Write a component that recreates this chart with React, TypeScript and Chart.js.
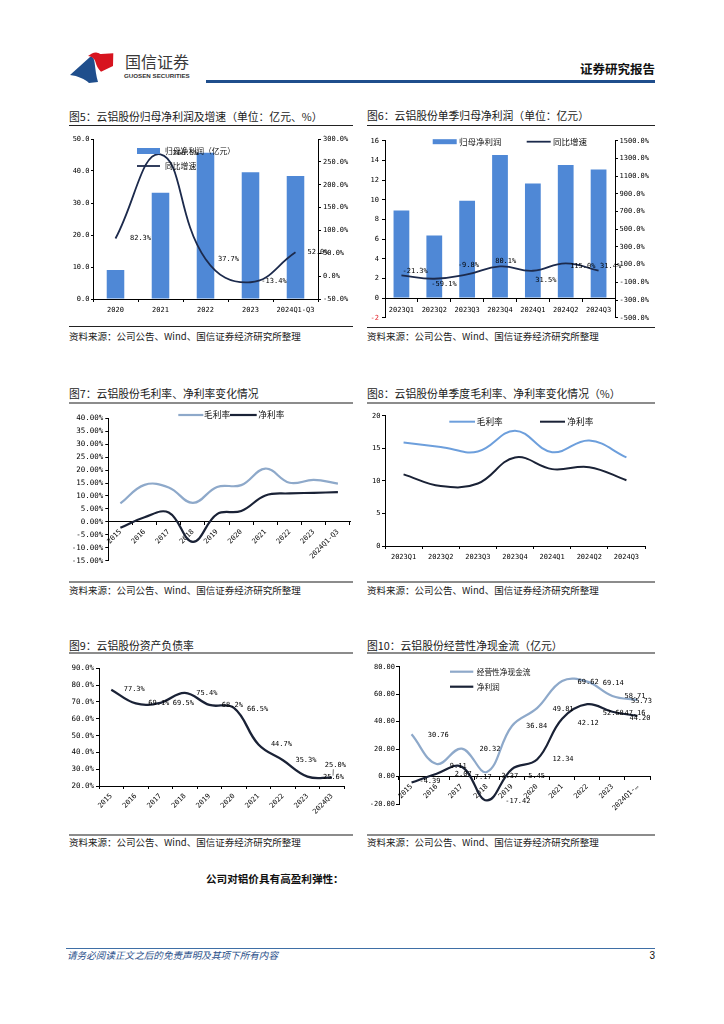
import React, { useEffect, useRef } from 'react';
import { Chart, registerables } from 'chart.js';

Chart.register(...registerables);

const MONO = '"DejaVu Sans Mono", "Liberation Mono", monospace';
const CJK = '"Noto Sans CJK SC", "Noto Sans", sans-serif';

const BAR_BLUE = '#4f88d6';
const NAVY = '#1c2a4c';
const DARK = '#1a2236';
const STEEL = '#8ea9ca';
const SKY = '#6d9fdc';

// ---------------- data ----------------
// 图5
const f5Categories = ['2020', '2021', '2022', '2023', '2024Q1-Q3'];
const f5NetProfit = [9.06, 33.2, 45.7, 39.6, 38.4];
const f5Growth = [82.3, 266.5, 37.7, -13.4, 52.0];
const f5LeftAxis = { min: 0, max: 50, step: 10 };
const f5RightAxis = { min: -50, max: 300, step: 50 };

// 图6
const f6Quarters = ['2023Q1', '2023Q2', '2023Q3', '2023Q4', '2024Q1', '2024Q2', '2024Q3'];
const f6NetProfit = [8.9, 6.37, 9.9, 14.55, 11.65, 13.54, 13.07];
const f6Growth = [-21.3, -59.1, -9.8, 80.1, 31.5, 115.0, 31.4];
const f6LeftAxis = { min: -2, max: 16, step: 2 };
const f6RightAxis = { min: -500, max: 1500, step: 200 };

// 图7
const f7Years = ['2015', '2016', '2017', '2018', '2019', '2020', '2021', '2022', '2023', '2024Q1-Q3'];
const f7GrossMargin = [7.1, 14.3, 13.3, 7.3, 13.5, 14.2, 20.6, 15.1, 16.2, 14.8];
const f7NetMargin = [-2.3, 1.8, 3.6, -7.7, 3.0, 4.2, 10.2, 11.0, 11.2, 11.5];
const f7Axis = { min: -15, max: 40, step: 5 };

// 图8
const f8Quarters = ['2023Q1', '2023Q2', '2023Q3', '2023Q4', '2024Q1', '2024Q2', '2024Q3'];
const f8GrossMargin = [15.9, 15.2, 14.5, 17.7, 14.4, 16.2, 13.6];
const f8NetMargin = [11.0, 9.2, 9.6, 13.6, 11.8, 12.1, 10.1];
const f8Axis = { min: 0, max: 20, step: 5 };

// 图9
const f9Years = ['2015', '2016', '2017', '2018', '2019', '2020', '2021', '2022', '2023', '2024Q3'];
const f9DebtRatio = [77.3, 69.1, 69.5, 75.4, 68.2, 66.5, 44.7, 35.3, 25.6, 25.0];
const f9Axis = { min: 20, max: 90, step: 10 };

// 图10
const f10Years = ['2015', '2016', '2017', '2018', '2019', '2020', '2021', '2022', '2023', '2024Q1-…'];
const f10OperatingCash = [30.76, 9.11, 20.32, 3.37, 36.84, 49.81, 69.62, 69.14, 58.71, 55.73];
const f10NetProfit = [-4.39, 2.07, 7.17, -17.42, 5.45, 12.34, 42.12, 52.68, 47.16, 44.2];
const f10Axis = { min: -20, max: 80, step: 20 };

// ---------------- label placement (style) ----------------
const f5LabelOffsets = [[25, 0], [25, -1], [23, 0], [23.5, -0.7], [22.5, 0.3]];
const f6LabelOffsets = [[13.7, -4.7], [9.7, 5.7], [1.3, -9], [5.7, -5], [13, 9], [17, 3], [12, -5]];
const f9LabelOffsets = [[23, 0], [23, 0], [23, 0], [22, 0], [23, 0], [23.7, 1.7], [23, 0], [23, 0], [26, 0.7], [3.3, -12.3]];
const f10CashOffsets = [[26.7, 0.6], [21.6, 1.8], [28.2, 0.5], [23, 4.7], [24.7, 0.7], [26, 1.1], [26, 1.7], [26, 1.1], [22.6, 0], [4, 1.6]];
const f10NetOffsets = [[18.4, -1], [26.6, 0], [21.5, 10], [31, 1], [24.7, 7.5], [26, 0], [26, 4.5], [26, 9], [22.6, 1.4], [2.5, 2.4]];

const pct1 = (v: number) => v.toFixed(1) + '%';
const pct2 = (v: number) => v.toFixed(2) + '%';
const fix1 = (v: number) => v.toFixed(1);
const fix2 = (v: number) => v.toFixed(2);
const int0 = (v: number) => String(Math.round(v));

// ---------------- plugins ----------------
function makeLabels(items: any[]) {
  return {
    id: 'dataLabels',
    afterDatasetsDraw(chart: any) {
      const ctx = chart.ctx;
      ctx.save();
      ctx.textAlign = 'center';
      ctx.textBaseline = 'middle';
      for (const it of items) {
        const meta = chart.getDatasetMeta(it.ds);
        const data = chart.data.datasets[it.ds].data;
        ctx.font = `${it.size || 7}px ${MONO}`;
        ctx.fillStyle = it.color || '#000';
        meta.data.forEach((el: any, i: number) => {
          const o = it.offsets[i];
          if (!o) return;
          const lx = el.x + o[0];
          const ly = el.y + o[1];
          ctx.fillText(it.fmt(data[i]), lx, ly);
          if (it.leaders && it.leaders.includes(i)) {
            ctx.strokeStyle = '#555';
            ctx.lineWidth = 0.8;
            ctx.beginPath();
            ctx.moveTo(el.x + 1, el.y - 2);
            ctx.lineTo(lx - 2, ly + 4);
            ctx.stroke();
          }
        });
      }
      ctx.restore();
    },
  };
}

function makeLegend(items: any[]) {
  return {
    id: 'inlineLegend',
    afterDraw(chart: any) {
      const ctx = chart.ctx;
      ctx.save();
      for (const it of items) {
        if (it.kind === 'box') {
          ctx.fillStyle = it.color;
          ctx.fillRect(it.x, it.y - it.h / 2, it.w, it.h);
        } else {
          ctx.strokeStyle = it.color;
          ctx.lineWidth = it.lw || 2;
          ctx.beginPath();
          ctx.moveTo(it.x, it.y);
          ctx.lineTo(it.x + it.w, it.y);
          ctx.stroke();
        }
        ctx.fillStyle = '#111';
        ctx.font = `${it.size}px ${CJK}`;
        ctx.textAlign = 'left';
        ctx.textBaseline = 'middle';
        ctx.fillText(it.text, it.tx, it.y);
      }
      ctx.restore();
    },
  };
}

// ---------------- axis helpers ----------------
function yAxis(o: any) {
  return {
    type: 'linear',
    position: o.pos,
    min: o.min,
    max: o.max,
    grid: { display: true, drawOnChartArea: false, drawTicks: true, tickLength: o.tick ?? 3, color: '#000', lineWidth: 1 },
    border: { display: true, color: '#000', width: 1 },
    ticks: {
      stepSize: o.step,
      maxTicksLimit: 100,
      autoSkip: false,
      padding: o.pad ?? 2,
      color: o.color ?? '#000',
      font: { family: MONO, size: o.size ?? 7 },
      callback: (v: any) => o.fmt(Number(v)),
    },
    afterFit: (s: any) => {
      s.width = o.width;
    },
  };
}

function xAxis(o: any) {
  const a: any = {
    type: 'category',
    offset: true,
    position: o.position ?? 'bottom',
    grid: { display: true, drawOnChartArea: false, drawTicks: true, tickLength: o.tick ?? 3, color: '#000', lineWidth: 1, offset: true },
    border: { display: true, color: '#000', width: 1 },
    ticks: {
      autoSkip: false,
      maxRotation: o.rotate ?? 0,
      minRotation: o.rotate ?? 0,
      padding: o.pad ?? 3,
      color: '#000',
      font: { family: MONO, size: 7 },
    },
  };
  if (o.height != null) {
    a.afterFit = (s: any) => {
      s.height = o.height;
    };
  }
  return a;
}

const baseOptions = () => ({
  animation: false,
  responsive: false,
  maintainAspectRatio: false,
  devicePixelRatio: 1,
  events: [],
  plugins: { legend: { display: false }, tooltip: { enabled: false } },
});

// ---------------- chart configs ----------------
function makeF5() {
  return {
    type: 'bar',
    data: {
      labels: f5Categories,
      datasets: [
        { type: 'bar', data: f5NetProfit, backgroundColor: BAR_BLUE, barPercentage: 0.39, categoryPercentage: 1, yAxisID: 'y', order: 2 },
        { type: 'line', data: f5Growth, borderColor: NAVY, borderWidth: 1.8, tension: 0.45, pointRadius: 0, fill: false, yAxisID: 'y1', order: 1 },
      ],
    },
    options: {
      ...baseOptions(),
      layout: { padding: { top: 11, right: 0, bottom: 0, left: 0 } },
      scales: {
        x: xAxis({ height: 26, pad: 4 }),
        y: yAxis({ pos: 'left', ...f5LeftAxis, fmt: fix1, width: 25, tick: 2, pad: 1.5 }),
        y1: yAxis({ pos: 'right', ...f5RightAxis, fmt: pct1, width: 37, tick: 3, pad: 2 }),
      },
    },
    plugins: [
      makeLabels([{ ds: 1, offsets: f5LabelOffsets, fmt: pct1 }]),
      makeLegend([
        { kind: 'box', color: BAR_BLUE, x: 69, y: 23, w: 23, h: 6, text: '归母净利润（亿元）', tx: 97, size: 7.8 },
        { kind: 'line', color: NAVY, x: 69, y: 38, w: 23, lw: 1.8, text: '同比增速', tx: 97, size: 7.8 },
      ]),
    ],
  };
}

function makeF6() {
  return {
    type: 'bar',
    data: {
      labels: f6Quarters,
      datasets: [
        { type: 'bar', data: f6NetProfit, backgroundColor: BAR_BLUE, barPercentage: 0.48, categoryPercentage: 1, yAxisID: 'y', order: 2 },
        { type: 'line', data: f6Growth, borderColor: NAVY, borderWidth: 1.8, tension: 0.45, pointRadius: 0, fill: false, yAxisID: 'y1', order: 1 },
      ],
    },
    options: {
      ...baseOptions(),
      layout: { padding: { top: 12.7, right: 0, bottom: 6.7, left: 0 } },
      scales: {
        x: xAxis({ position: { y: 0 }, pad: 4.5, tick: 3 }),
        y: yAxis({
          pos: 'left', ...f6LeftAxis, fmt: int0, width: 19, tick: 3, pad: 3,
          color: (c: any) => (c.tick && c.tick.value < 0 ? '#e3262d' : '#000'),
        }),
        y1: yAxis({ pos: 'right', ...f6RightAxis, fmt: pct1, width: 43, tick: 3, pad: 1.5 }),
      },
    },
    plugins: [
      makeLabels([{ ds: 1, offsets: f6LabelOffsets, fmt: pct1 }]),
      makeLegend([
        { kind: 'box', color: BAR_BLUE, x: 66.7, y: 13.7, w: 24, h: 5, text: '归母净利润', tx: 93, size: 8.5 },
        { kind: 'line', color: NAVY, x: 160.7, y: 13.7, w: 24, lw: 1.8, text: '同比增速', tx: 187, size: 8.5 },
      ]),
    ],
  };
}

function makeF7() {
  return {
    type: 'line',
    data: {
      labels: f7Years,
      datasets: [
        { data: f7GrossMargin, borderColor: STEEL, borderWidth: 2.2, tension: 0.4, pointRadius: 0, fill: false },
        { data: f7NetMargin, borderColor: DARK, borderWidth: 2.2, tension: 0.4, pointRadius: 0, fill: false },
      ],
    },
    options: {
      ...baseOptions(),
      layout: { padding: { top: 13.3, right: 5, bottom: 19.3, left: 0 } },
      scales: {
        x: xAxis({ position: { y: 0 }, rotate: 45, tick: 3, pad: 3 }),
        y: yAxis({ pos: 'left', ...f7Axis, fmt: pct2, width: 40.3, tick: 3, pad: 2, size: 7.5 }),
      },
    },
    plugins: [
      makeLegend([
        { kind: 'line', color: STEEL, x: 110.3, y: 10, w: 25, lw: 2.2, text: '毛利率', tx: 136, size: 8.7 },
        { kind: 'line', color: DARK, x: 162, y: 10, w: 26.7, lw: 2.2, text: '净利率', tx: 190.3, size: 8.7 },
      ]),
    ],
  };
}

function makeF8() {
  return {
    type: 'line',
    data: {
      labels: f8Quarters,
      datasets: [
        { data: f8GrossMargin, borderColor: SKY, borderWidth: 2, tension: 0.4, pointRadius: 0, fill: false },
        { data: f8NetMargin, borderColor: DARK, borderWidth: 2, tension: 0.4, pointRadius: 0, fill: false },
      ],
    },
    options: {
      ...baseOptions(),
      layout: { padding: { top: 10.7, right: 13, bottom: 0, left: 0 } },
      scales: {
        x: xAxis({ height: 34, tick: 3, pad: 4 }),
        y: yAxis({ pos: 'left', ...f8Axis, fmt: int0, width: 19, tick: 3, pad: 1.5 }),
      },
    },
    plugins: [
      makeLegend([
        { kind: 'line', color: SKY, x: 83.3, y: 16.7, w: 25.7, lw: 2, text: '毛利率', tx: 110.7, size: 8.7 },
        { kind: 'line', color: DARK, x: 174, y: 16.7, w: 25, lw: 2, text: '净利率', tx: 201.3, size: 8.7 },
      ]),
    ],
  };
}

function makeF9() {
  return {
    type: 'line',
    data: {
      labels: f9Years,
      datasets: [
        { data: f9DebtRatio, borderColor: DARK, borderWidth: 2.3, tension: 0.4, pointRadius: 0, fill: false },
      ],
    },
    options: {
      ...baseOptions(),
      layout: { padding: { top: 12.3, right: 10.7, bottom: 0, left: 0 } },
      scales: {
        x: xAxis({ height: 47, rotate: 45, tick: 3, pad: 3 }),
        y: yAxis({ pos: 'left', ...f9Axis, fmt: pct1, width: 31, tick: 3, pad: 2, size: 7.5 }),
      },
    },
    plugins: [makeLabels([{ ds: 0, offsets: f9LabelOffsets, fmt: pct1, leaders: [9] }])],
  };
}

function makeF10() {
  return {
    type: 'line',
    data: {
      labels: f10Years,
      datasets: [
        { data: f10OperatingCash, borderColor: STEEL, borderWidth: 2.2, tension: 0.4, pointRadius: 0, fill: false },
        { data: f10NetProfit, borderColor: DARK, borderWidth: 2.2, tension: 0.4, pointRadius: 0, fill: false },
      ],
    },
    options: {
      ...baseOptions(),
      layout: { padding: { top: 10.7, right: 12, bottom: 29, left: 0 } },
      scales: {
        x: xAxis({ position: { y: 0 }, rotate: 45, tick: 3, pad: 3 }),
        y: yAxis({ pos: 'left', ...f10Axis, fmt: fix2, width: 33, tick: 3, pad: 1 }),
      },
    },
    plugins: [
      makeLabels([
        { ds: 0, offsets: f10CashOffsets, fmt: fix2 },
        { ds: 1, offsets: f10NetOffsets, fmt: fix2 },
      ]),
      makeLegend([
        { kind: 'line', color: STEEL, x: 84, y: 15.7, w: 23.3, lw: 2.2, text: '经营性净现金流', tx: 110.7, size: 7.7 },
        { kind: 'line', color: DARK, x: 84, y: 30.7, w: 23.3, lw: 2.2, text: '净利润', tx: 110.7, size: 7.7 },
      ]),
    ],
  };
}

// ---------------- components ----------------
function ChartBox({ x, y, w, h, make }: any) {
  const ref = useRef<HTMLCanvasElement>(null);
  useEffect(() => {
    const chart = new Chart(ref.current as HTMLCanvasElement, make() as any);
    return () => chart.destroy();
  }, []);
  return (
    <canvas
      ref={ref}
      width={w}
      height={h}
      style={{ position: 'absolute', left: x, top: y, width: w, height: h }}
    />
  );
}

function Txt({ x, y, size, children, style, right }: any) {
  const s: any = {
    position: 'absolute',
    top: y - size * 0.76,
    fontSize: size,
    lineHeight: `${size * 1.4}px`,
    whiteSpace: 'nowrap',
    fontFamily: CJK,
    color: '#111',
    ...style,
  };
  if (right != null) s.right = 724 - right;
  else s.left = x;
  return <div style={s}>{children}</div>;
}

function HLine({ x1, x2, y, t, color }: any) {
  return (
    <div style={{ position: 'absolute', left: x1, top: y - t / 2, width: x2 - x1, height: t, background: color }} />
  );
}

const SOURCE = '资料来源：公司公告、Wind、国信证券经济研究所整理';

function Panel({ title, x1, x2, titleY, lineTop, lineBottom, sourceY, lineT, lineColor }: any) {
  return (
    <>
      <Txt x={x1} y={titleY} size={10.8} style={{ color: '#1a1a1a' }}>{title}</Txt>
      <HLine x1={x1} x2={x2} y={lineTop} t={lineT} color={lineColor} />
      <HLine x1={x1} x2={x2} y={lineBottom} t={lineT} color={lineColor} />
      <Txt x={x1} y={sourceY} size={9.5} style={{ color: '#1a1a1a' }}>{SOURCE}</Txt>
    </>
  );
}

export default function App() {
  return (
    <div
      style={{
        position: 'absolute',
        left: 0,
        top: 0,
        width: 724,
        height: 1024,
        background: '#fff',
        overflow: 'hidden',
        fontFamily: CJK,
      }}
    >
      {/* header */}
      <svg style={{ position: 'absolute', left: 66, top: 50 }} width={50} height={36} viewBox="0 0 50 36">
        <path d="M4 25 L24 7 C27 6 28 9 28.5 12 C29.5 19 30 26 32 32 L23 33 C19 29 12 26 4 25 Z" fill="#1f4e8c" />
        <path d="M22 6 C25 4 28 2 31 2.7 C33 3 34 4 35 4 L47.3 3.3 L47 16 L35 21.7 C32 19 30.5 16 29.5 12 C28.8 9 26 6.5 22 6 Z" fill="#d7141f" />
      </svg>
      <Txt x={125} y={62.5} size={16} style={{ color: '#3a3a3a' }}>国信证券</Txt>
      <Txt x={124} y={76.8} size={6.2} style={{ fontFamily: '"Liberation Sans", Arial, sans-serif', fontWeight: 700, color: '#333' }}>GUOSEN SECURITIES</Txt>
      <HLine x1={206} x2={655} y={81.7} t={2.5} color="#1f4e8c" />
      <Txt right={655} y={69.5} size={12.5} style={{ fontWeight: 700, color: '#111' }}>证券研究报告</Txt>

      {/* row 1 */}
      <Panel title="图5：云铝股份归母净利润及增速（单位：亿元、%）" x1={69} x2={353} titleY={117} lineTop={125} lineBottom={326.7} sourceY={337.7} lineT={1} lineColor="#222" />
      <Panel title="图6：云铝股份单季归母净利润（单位：亿元）" x1={367} x2={655} titleY={116.5} lineTop={125} lineBottom={327} sourceY={337.3} lineT={1} lineColor="#222" />
      <ChartBox x={68} y={128} w={287} h={197} make={makeF5} />
      <ChartBox x={366} y={128} w={292} h={197} make={makeF6} />

      {/* row 2 */}
      <Panel title="图7：云铝股份毛利率、净利率变化情况" x1={69} x2={353} titleY={393.8} lineTop={402.7} lineBottom={581.7} sourceY={591.7} lineT={2} lineColor="#8c8c8c" />
      <Panel title="图8：云铝股份单季度毛利率、净利率变化情况（%）" x1={367} x2={655} titleY={394} lineTop={402.7} lineBottom={581.7} sourceY={591.7} lineT={2} lineColor="#8c8c8c" />
      <ChartBox x={68} y={405} w={287} h={175} make={makeF7} />
      <ChartBox x={366} y={405} w={292} h={175} make={makeF8} />

      {/* row 3 */}
      <Panel title="图9：云铝股份资产负债率" x1={69} x2={353} titleY={646.2} lineTop={653.3} lineBottom={835} sourceY={843.3} lineT={2} lineColor="#8c8c8c" />
      <Panel title="图10：云铝股份经营性净现金流（亿元）" x1={367} x2={655} titleY={646.2} lineTop={653.3} lineBottom={835} sourceY={843.3} lineT={2} lineColor="#8c8c8c" />
      <ChartBox x={68} y={656} w={287} h={177} make={makeF9} />
      <ChartBox x={366} y={656} w={296} h={177} make={makeF10} />

      {/* body text */}
      <Txt x={206} y={880} size={10.6} style={{ fontWeight: 700, color: '#111' }}>公司对铝价具有高盈利弹性：</Txt>

      {/* footer */}
      <HLine x1={66} x2={655} y={948.3} t={1} color="#3f6fa6" />
      <Txt x={67} y={956.3} size={9.6} style={{ fontStyle: 'italic', color: '#2a4f8a' }}>请务必阅读正文之后的免责声明及其项下所有内容</Txt>
      <Txt right={655} y={957} size={10} style={{ fontFamily: '"Liberation Sans", Arial, sans-serif', color: '#111' }}>3</Txt>
    </div>
  );
}
